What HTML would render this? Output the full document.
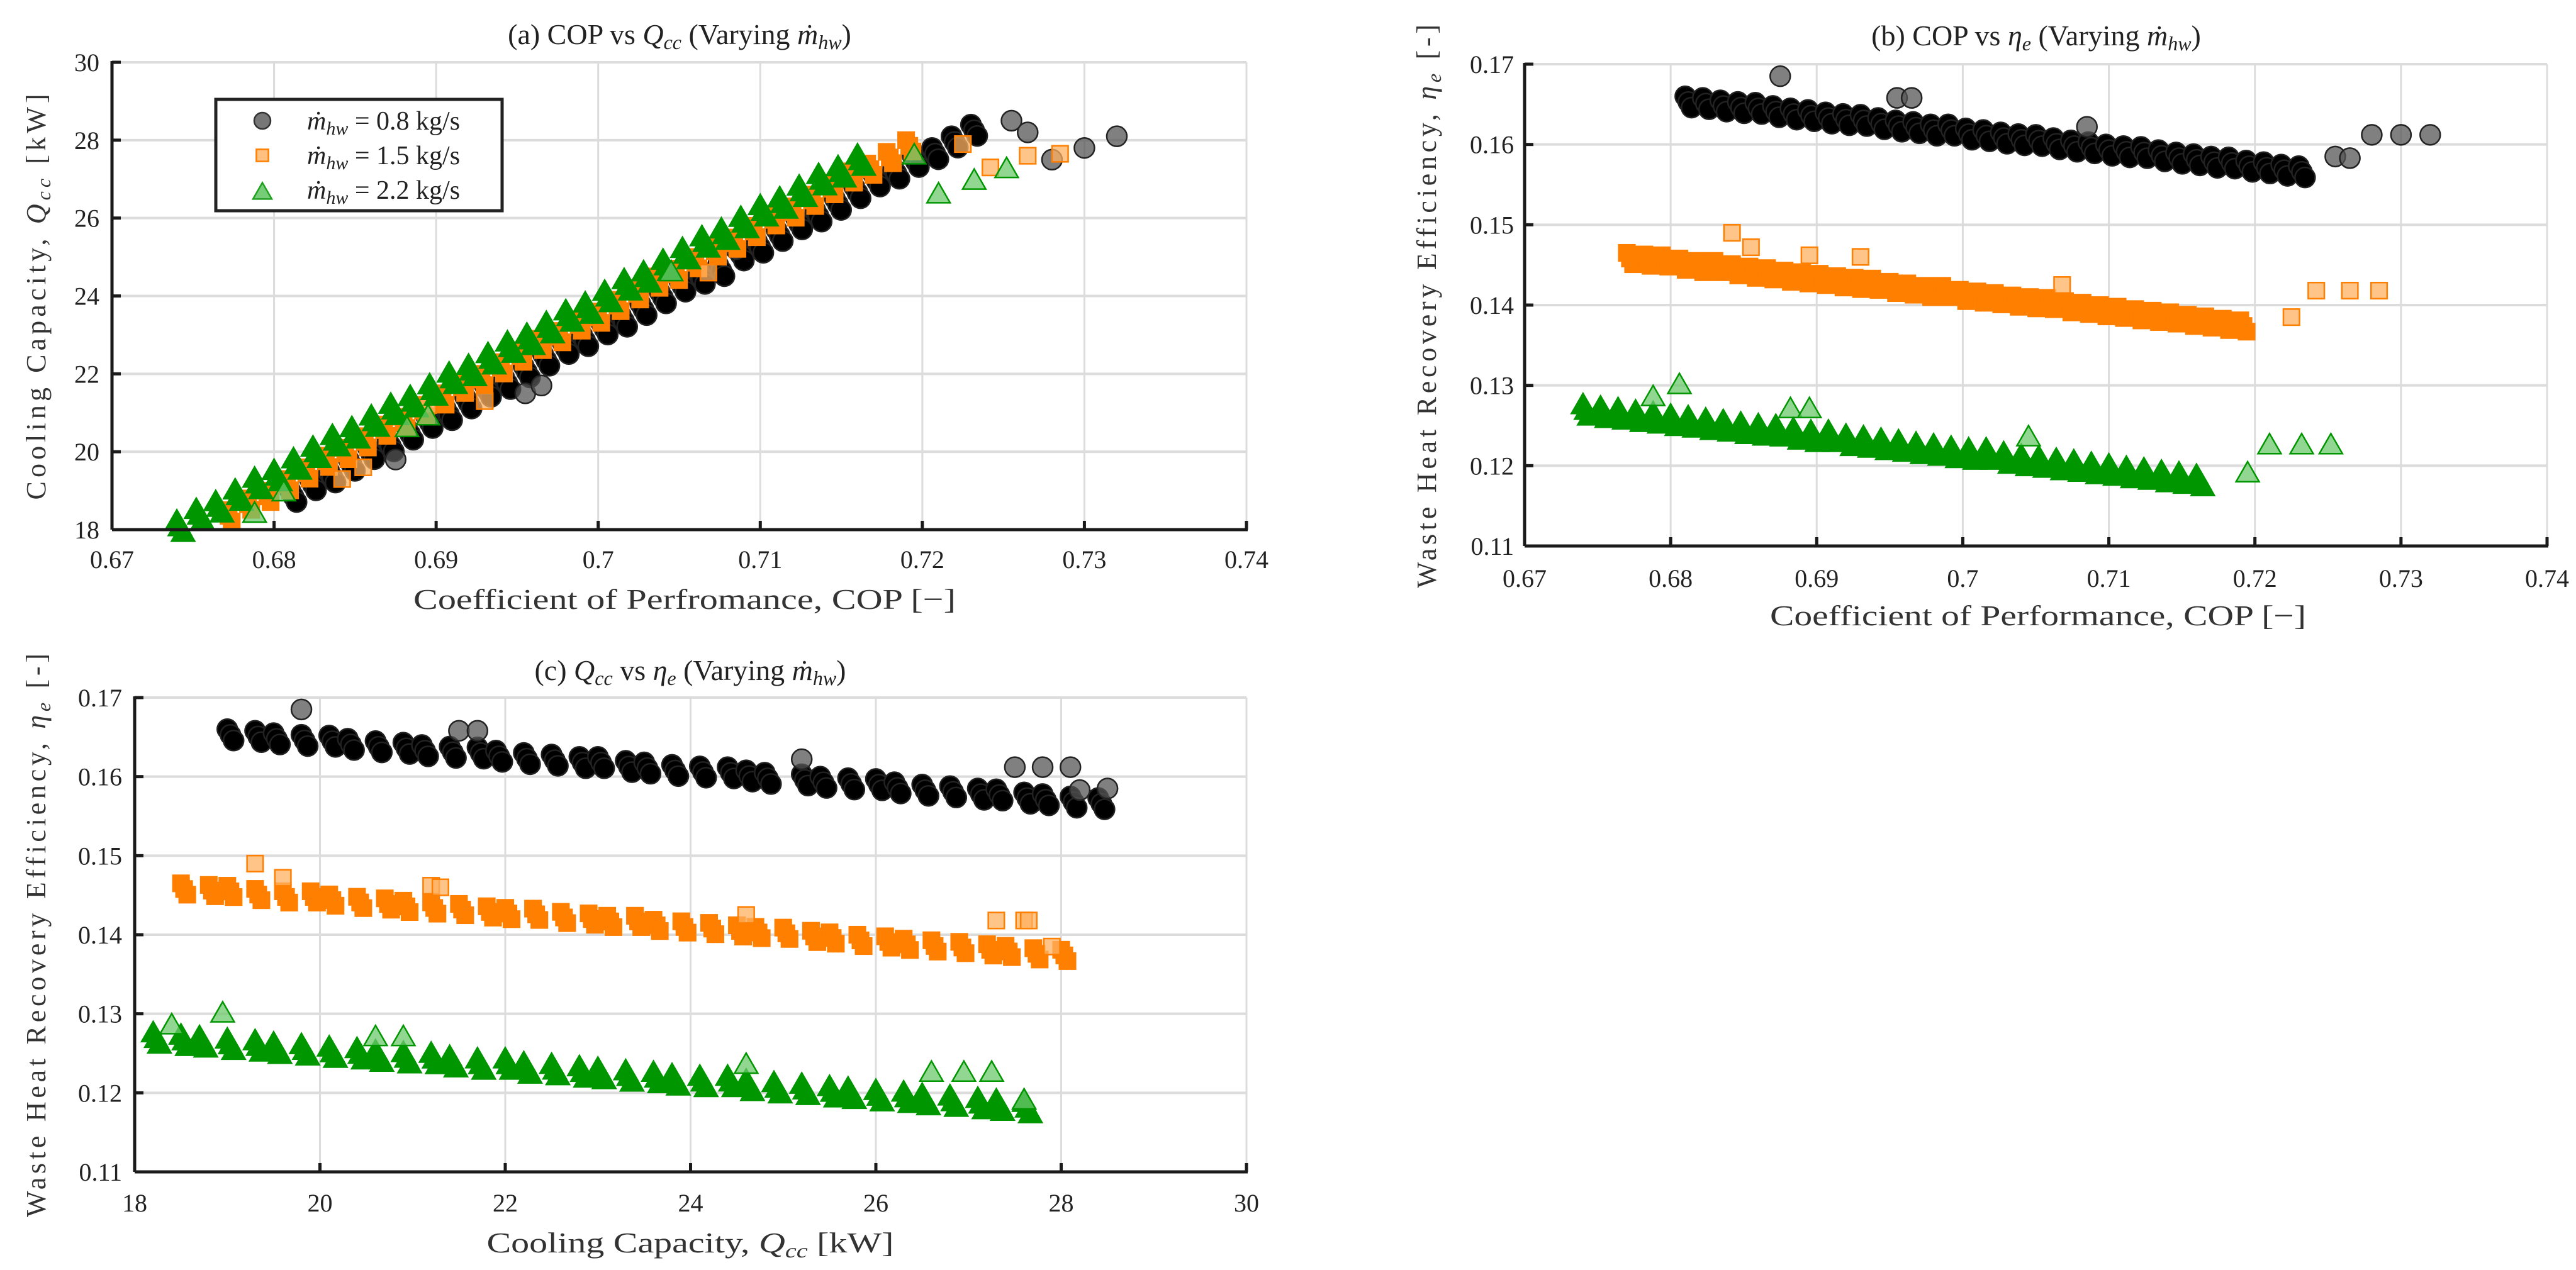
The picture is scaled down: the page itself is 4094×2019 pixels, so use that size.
<!DOCTYPE html>
<html><head><meta charset="utf-8"><style>
html,body{margin:0;padding:0;background:#fff;}
svg{display:block;font-family:"Liberation Serif",serif;}
</style></head><body>
<svg id="fig" width="4094" height="2019" viewBox="0 0 4094 2019" xmlns="http://www.w3.org/2000/svg"></svg>
<script>
// ---- data (shared observations) ----
const cop08=[0.681,0.6822,0.6834,0.6846,0.6858,0.687,0.6882,0.6894,0.6906,0.6918,0.693,0.6942,0.6954,0.6966,0.6978,0.699,0.7002,0.7014,0.7026,0.7038,0.705,0.7062,0.7074,0.7086,0.7098,0.711,0.7122,0.7134,0.7146,0.7158,0.717,0.7182,0.7194,0.7206,0.7218,0.723];
const q08=[19.0,19.3,19.5,19.8,20.1,20.3,20.6,20.9,21.1,21.4,21.7,21.9,22.2,22.5,22.8,23.0,23.3,23.5,23.8,24.1,24.4,24.6,24.8,25.2,25.4,25.7,26.0,26.2,26.5,26.8,27.1,27.3,27.6,27.8,28.1,28.4];
const eta08=[0.1660,0.1658,0.1655,0.1653,0.1652,0.1648,0.1645,0.1643,0.1640,0.1638,0.1637,0.1633,0.1630,0.1628,0.1625,0.1625,0.1620,0.1618,0.1615,0.1613,0.1612,0.1608,0.1605,0.1603,0.1600,0.1598,0.1597,0.1593,0.1590,0.1588,0.1585,0.1584,0.1580,0.1578,0.1575,0.1573];
const cop08o=[0.6875,0.6955,0.6965,0.7255,0.728,0.730,0.732,0.7085,0.7265];
const q08o=[19.8,21.5,21.7,28.5,27.5,27.8,28.1,25.2,28.2];
const eta08o=[0.1685,0.1658,0.1658,0.1585,0.1612,0.1612,0.1612,0.1622,0.1583];
const cop15=[0.677,0.6782,0.6794,0.6806,0.6818,0.683,0.6842,0.6854,0.6866,0.6878,0.689,0.6902,0.6914,0.6926,0.6938,0.695,0.6962,0.6974,0.6986,0.6998,0.701,0.7022,0.7034,0.7046,0.7058,0.707,0.7082,0.7094,0.7106,0.7118,0.713,0.7142,0.7154,0.7166,0.7178,0.719];
const q15=[18.5,18.8,19.0,19.3,19.6,19.9,20.1,20.4,20.7,20.9,21.2,21.5,21.8,22.0,22.3,22.6,22.9,23.1,23.4,23.6,23.9,24.2,24.5,24.7,25.0,25.3,25.5,25.8,26.1,26.3,26.6,26.9,27.2,27.4,27.7,28.0];
const eta15=[0.1465,0.1463,0.1462,0.1458,0.1455,0.1455,0.1451,0.1448,0.1446,0.1443,0.1441,0.1439,0.1436,0.1434,0.1433,0.1429,0.1427,0.1424,0.1424,0.1419,0.1417,0.1415,0.1412,0.1410,0.1409,0.1405,0.1403,0.1400,0.1398,0.1395,0.1393,0.1391,0.1388,0.1386,0.1383,0.1381];
const cop15o=[0.6842,0.6855,0.6895,0.693,0.7242,0.7265,0.7285,0.7068,0.7225];
const q15o=[19.3,19.6,21.2,21.3,27.3,27.6,27.65,24.6,27.9];
const eta15o=[0.1490,0.1472,0.1462,0.1460,0.1418,0.1418,0.1418,0.1425,0.1385];
const cop22=[0.674,0.6752,0.6764,0.6776,0.6788,0.68,0.6812,0.6824,0.6836,0.6848,0.686,0.6872,0.6884,0.6896,0.6908,0.692,0.6932,0.6944,0.6956,0.6968,0.698,0.6992,0.7004,0.7016,0.7028,0.704,0.7052,0.7064,0.7076,0.7088,0.71,0.7112,0.7124,0.7136,0.7148,0.716];
const q22=[18.2,18.5,18.7,19.0,19.3,19.5,19.8,20.1,20.4,20.6,20.9,21.2,21.4,21.7,22.0,22.2,22.5,22.8,23.0,23.3,23.6,23.8,24.1,24.4,24.6,24.9,25.2,25.5,25.7,26.0,26.3,26.5,26.8,27.1,27.3,27.6];
const eta22=[0.1275,0.1272,0.1270,0.1267,0.1265,0.1262,0.1260,0.1257,0.1255,0.1252,0.1250,0.1249,0.1245,0.1242,0.1242,0.1237,0.1235,0.1232,0.1230,0.1227,0.1225,0.1222,0.1220,0.1220,0.1215,0.1212,0.1210,0.1207,0.1205,0.1202,0.1200,0.1197,0.1195,0.1192,0.1190,0.1187];
const cop22o=[0.6806,0.6788,0.6882,0.6895,0.721,0.7232,0.7252,0.7045,0.7195];
const q22o=[18.95,18.4,20.6,20.9,26.6,26.95,27.25,24.6,27.6];
const eta22o=[0.1300,0.1285,0.1270,0.1270,0.1225,0.1225,0.1225,0.1235,0.1190];
const copTicks=[0.67,0.68,0.69,0.7,0.71,0.72,0.73,0.74];
const copTickLabels=["0.67","0.68","0.69","0.7","0.71","0.72","0.73","0.74"];
const qTicks=[18,20,22,24,26,28,30];
const qTickLabels=["18","20","22","24","26","28","30"];
const etaTicks=[0.11,0.12,0.13,0.14,0.15,0.16,0.17];
const etaTickLabels=["0.11","0.12","0.13","0.14","0.15","0.16","0.17"];

const NS="http://www.w3.org/2000/svg";
const svg=document.getElementById('fig');
function mk(tag,attrs,parent){const e=document.createElementNS(NS,tag);for(const k in attrs)e.setAttribute(k,attrs[k]);(parent||svg).appendChild(e);return e;}

function marker(g,kind,x,y,fill,stroke,op,size){
  let e;
  if(kind==='c'){e=mk('circle',{cx:x,cy:y,r:size/2},g);}
  else if(kind==='s'){const s=size*0.8;e=mk('rect',{x:x-s/2,y:y-s/2,width:s,height:s},g);}
  else {const h=size*1.0,w=size*1.15;e=mk('polygon',{points:`${x},${y-h*0.6} ${x-w/2},${y+h*0.4} ${x+w/2},${y+h*0.4}`},g);}
  e.setAttribute('fill',fill);e.setAttribute('fill-opacity',op);e.setAttribute('stroke',stroke);e.setAttribute('stroke-width',2.5);
  return e;
}
const copies=[[0,0],[5,9],[10,18]];

function panel(cfg){
  const g=mk('g',{});
  
  
  const {L,R,T,B,x0,x1,y0,y1}=cfg;
  const sx=v=>L+(v-x0)/(x1-x0)*(R-L);
  const sy=v=>B-(v-y0)/(y1-y0)*(B-T);
  cfg.xt.forEach((v,i)=>{const l=mk('line',{x1:sx(v),x2:sx(v),y1:T,y2:B,stroke:'#dcdcdc','stroke-width':3},g);
    });
  cfg.yt.forEach((v,i)=>{const l=mk('line',{x1:L,x2:R,y1:sy(v),y2:sy(v),stroke:'#dcdcdc','stroke-width':4},g);
    });
  const ser=[
    {x:cfg.sx[0],y:cfg.sy[0],xo:cfg.sxo[0],yo:cfg.syo[0],k:'c',f:'#000',s:'#222',fo:'#555',so:'#222',sz:32,name:'series-0-8'},
    {x:cfg.sx[1],y:cfg.sy[1],xo:cfg.sxo[1],yo:cfg.syo[1],k:'s',f:'#ff7f00',s:'#ff7f00',fo:'#ffb060',so:'#ff7f00',sz:32,name:'series-1-5'},
    {x:cfg.sx[2],y:cfg.sy[2],xo:cfg.sxo[2],yo:cfg.syo[2],k:'t',f:'#009600',s:'#009600',fo:'#6cc86c',so:'#009600',sz:32,name:'series-2-2'}];
  [0,1,2].forEach(si=>{const S=ser[si];
    const sg=mk('g',{},g);
    
    
    S.x.forEach((v,i)=>{copies.forEach(o=>{const m=marker(sg,S.k,sx(v)+o[0],sy(S.y[i])+o[1],S.f,S.s,1,S.sz);
      
      });});
    S.xo.forEach((v,i)=>{const m=marker(sg,S.k,sx(v),sy(S.yo[i]),S.fo,S.so,0.75,S.sz);
      
      });
  });
  const ax=mk('line',{x1:L,x2:R+2,y1:B,y2:B,stroke:'#1a1a1a','stroke-width':5},g);
  
  const ay=mk('line',{x1:L,x2:L,y1:T-2,y2:B,stroke:'#1a1a1a','stroke-width':5},g);
  
  cfg.xt.forEach((v,i)=>{mk('line',{x1:sx(v),x2:sx(v),y1:B,y2:B-14,stroke:'#1a1a1a','stroke-width':5},g);
    const t=mk('text',{x:sx(v),y:cfg.xtY,'font-size':40,'text-anchor':'middle',fill:'#222'},g);t.textContent=cfg.xl[i];
    });
  cfg.yt.forEach((v,i)=>{mk('line',{x1:L,x2:L+14,y1:sy(v),y2:sy(v),stroke:'#1a1a1a','stroke-width':5},g);
    const t=mk('text',{x:cfg.ytX,y:sy(v)+14,'font-size':40,'text-anchor':'end',fill:'#222'},g);t.textContent=cfg.yl[i];
    });
  const tt=mk('text',{x:cfg.title[1],y:cfg.title[2],'font-size':46,'text-anchor':'middle',fill:'#222'},g);
  tt.innerHTML=cfg.title[0];
  
  const xl=mk('text',{x:cfg.xlab[1],y:cfg.xlab[2],'font-size':46,'text-anchor':'middle',fill:'#333',textLength:cfg.xlab[3],lengthAdjust:'spacingAndGlyphs'},g);
  xl.innerHTML=cfg.xlab[0];
  
  const yl=mk('text',{x:0,y:0,'font-size':44,'text-anchor':'middle',fill:'#333',textLength:cfg.ylab[3],lengthAdjust:'spacing',transform:`translate(${cfg.ylab[1]},${cfg.ylab[2]}) rotate(-90)`},g);
  yl.innerHTML=cfg.ylab[0];
  
  return g;
}
const MH='<tspan font-style="italic">ṁ</tspan><tspan font-style="italic" font-size="32" dy="8">hw</tspan><tspan dy="-8">)</tspan>';
const QCC='<tspan font-style="italic">Q</tspan><tspan font-style="italic" font-size="32" dy="8">cc</tspan><tspan dy="-8"> </tspan>';
const ETA='<tspan font-style="italic">η</tspan><tspan font-style="italic" font-size="32" dy="8">e</tspan><tspan dy="-8"> </tspan>';

panel({name:'panel-a-cop-vs-qcc',L:178,R:1981,T:99,B:842,x0:0.67,x1:0.74,y0:18,y1:30,
  xt:copTicks,xl:copTickLabels,yt:qTicks,yl:qTickLabels,xtY:903,ytX:158,
  sx:[cop08,cop15,cop22],sy:[q08,q15,q22],sxo:[cop08o,cop15o,cop22o],syo:[q08o,q15o,q22o],
  title:['(a) COP vs '+QCC+'(Varying '+MH,1080,70],
  xlab:['Coefficient of Perfromance, COP [−]',1088,968,862],
  ylab:['Cooling Capacity, '+QCC+'[kW]',72,472,645]});

panel({name:'panel-b-cop-vs-eta',L:2423,R:4048,T:102,B:868,x0:0.67,x1:0.74,y0:0.11,y1:0.17,
  xt:copTicks,xl:copTickLabels,yt:etaTicks,yl:etaTickLabels,xtY:933,ytX:2406,
  sx:[cop08,cop15,cop22],sy:[eta08,eta15,eta22],sxo:[cop08o,cop15o,cop22o],syo:[eta08o,eta15o,eta22o],
  title:['(b) COP vs '+ETA+'(Varying '+MH,3236,72],
  xlab:['Coefficient of Performance, COP [−]',3239,994,852],
  ylab:['Waste Heat Recovery Efficiency, '+ETA+'[-]',2282,487,896]});

panel({name:'panel-c-qcc-vs-eta',L:214,R:1981,T:1109,B:1863,x0:18,x1:30,y0:0.11,y1:0.17,
  xt:qTicks,xl:qTickLabels,yt:etaTicks,yl:etaTickLabels,xtY:1926,ytX:194,
  sx:[q08,q15,q22],sy:[eta08,eta15,eta22],sxo:[q08o,q15o,q22o],syo:[eta08o,eta15o,eta22o],
  title:['(c) '+QCC+'vs '+ETA+'(Varying '+MH,1097,1081],
  xlab:['Cooling Capacity, '+QCC+'[kW]',1097,1991,647],
  ylab:['Waste Heat Recovery Efficiency, '+ETA+'[-]',72,1487,896]});

const lg=mk('g',{});


mk('rect',{x:343,y:158,width:455,height:177,fill:'#fff',stroke:'#222','stroke-width':5},lg);
const legendLabels=['0.8','1.5','2.2'];
const lk=[['c','#777','#333'],['s','#ffc080','#ff7f00'],['t','#77cc77','#1fa01f']];
[192,247,302].forEach((y,i)=>{
  const m=marker(lg,lk[i][0],417,y+(i==2?4:0),lk[i][1],lk[i][2],1,i==1?24:26);
  
  
  const t=mk('text',{x:488,y:y+14,'font-size':42,fill:'#222'},lg);
  t.innerHTML='<tspan font-style="italic">ṁ</tspan><tspan font-style="italic" font-size="30" dy="8">hw</tspan><tspan dy="-8"> = '+legendLabels[i]+' kg/s</tspan>';
  
  
});
</script>
</body></html>
